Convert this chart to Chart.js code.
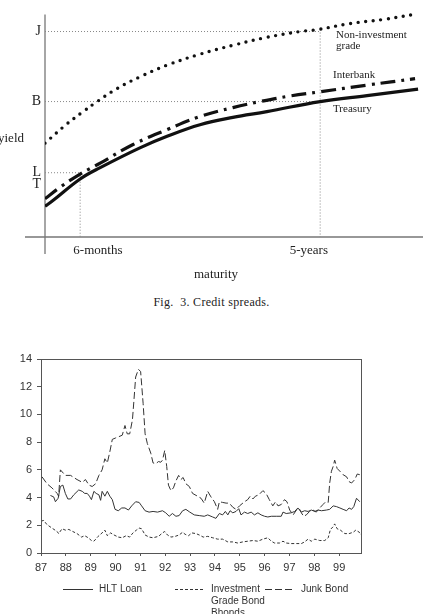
<!DOCTYPE html>
<html>
<head>
<meta charset="utf-8">
<script src="https://cdn.jsdelivr.net/npm/chart.js@4.4.1/dist/chart.umd.min.js"></script>
<style>
  html, body { margin: 0; padding: 0; background: #fff; }
  body { width: 423px; height: 614px; position: relative; overflow: hidden; }
  #top { position: absolute; left: 0; top: 0; width: 423px; height: 290px; }
  #bottom { position: absolute; left: 0; top: 330px; width: 423px; height: 284px; }
  .txt { position: absolute; white-space: nowrap; color: #222;
         font-family: 'Liberation Serif', 'Times New Roman', serif; line-height: 1; }
</style>
</head>
<body>
<div id="top"><canvas id="curveChart"></canvas></div>
<div class="txt" style="left:-2px; top:131px; font-size:13px;">yield</div>
<div class="txt" style="left:336px; top:29px; font-size:11px;">Non-investment</div>
<div class="txt" style="left:336px; top:40px; font-size:11px;">grade</div>
<div class="txt" style="left:333px; top:69px; font-size:11px;">Interbank</div>
<div class="txt" style="left:333px; top:103px; font-size:11px;">Treasury</div>
<div class="txt" style="left:194px; top:267px; font-size:13px;">maturity</div>
<div class="txt" style="left:0; width:423px; top:296px; font-size:12px; text-align:center; letter-spacing:0.3px;">Fig.&nbsp; 3. Credit spreads.</div>
<div id="bottom"><canvas id="spreadChart"></canvas></div>

<script>
// ---- Fig. 3: schematic yield curves (arbitrary units) ----
const maturityTicks = [0.93, 7.28];      // where the 6-month and 5-year guides stand
const maturityLabelAt = [1.40, 6.98];    // label centres sit a little off the guides
const maturityLabels = ['6-months', '5-years'];
const yieldTicks = [2.36, 2.89, 6.09, 9.24];
const yieldLabels = ['T', 'L', 'B', 'J'];

const nonInvX = [0, 0.57, 1.01, 1.38, 1.90, 2.51, 3.23, 4.10, 4.97, 5.87, 6.75, 7.22, 8.07, 8.94, 9.74];
const nonInvY = [4.22, 5.07, 5.64, 6.09, 6.67, 7.2, 7.73, 8.22, 8.62, 8.98, 9.24, 9.33, 9.6, 9.78, 10.0];
const interbankX = [0, 0.40, 0.93, 1.46, 2.33, 3.23, 4.10, 4.97, 5.69, 6.48, 7.28, 8.52, 9.79];
const interbankY = [1.72, 2.24, 2.83, 3.32, 4.16, 4.83, 5.42, 5.82, 6.09, 6.34, 6.53, 6.83, 7.12];
const treasuryX = [0, 0.21, 0.93, 1.46, 2.51, 3.23, 4.10, 4.97, 5.87, 7.28, 8.52, 9.87];
const treasuryY = [1.38, 1.64, 2.61, 3.12, 4.01, 4.53, 5.05, 5.38, 5.64, 6.09, 6.36, 6.65];

// ---- spreads 1987-1999 (percent) ----
const yearTicks = [87, 88, 89, 90, 91, 92, 93, 94, 95, 96, 97, 98, 99];

const hltYears = [87.38, 87.51, 87.58, 87.69, 87.78, 87.88, 87.98, 88.08, 88.19, 88.32,
  88.52, 88.66, 88.76, 88.86, 88.95, 89.03, 89.13, 89.22, 89.33, 89.40,
  89.46, 89.57, 89.67, 89.77, 89.87, 89.98, 90.11, 90.25, 90.38, 90.52,
  90.65, 90.81, 90.95, 91.05, 91.19, 91.35, 91.51, 91.69, 91.89, 92.02,
  92.16, 92.29, 92.43, 92.56, 92.70, 92.83, 92.99, 93.17, 93.37, 93.57,
  93.71, 93.91, 94.04, 94.18, 94.31, 94.42, 94.52, 94.61, 94.72, 94.85,
  94.96, 95.05, 95.19, 95.32, 95.46, 95.59, 95.73, 95.86, 96.00, 96.13,
  96.27, 96.47, 96.67, 96.74, 96.87, 97.07, 97.21, 97.34, 97.48, 97.61,
  97.75, 97.88, 98.02, 98.15, 98.29, 98.49, 98.62, 98.76, 98.89, 99.03,
  99.16, 99.30, 99.40, 99.50, 99.59, 99.70, 99.83];
const hltSpread = [4.15, 4.05, 3.7, 3.95, 4.8, 4.9, 4.3, 3.9, 3.9, 4.2,
  4.55, 4.45, 4.3, 4.3, 4.1, 3.85, 4.45, 4.3, 4.2, 3.8,
  4.45, 4.1, 4.45, 4.1, 3.85, 3.15, 3.05, 3.25, 3.25, 3.1,
  3.4, 3.7, 3.65, 3.4, 3.05, 2.95, 3.0, 2.95, 3.05, 2.9,
  2.65, 2.85, 2.65, 2.7, 3.05, 3.15, 2.95, 2.75, 2.7, 2.65,
  2.75, 2.6, 2.5, 2.85, 2.75, 3.0, 2.75, 3.05, 2.9, 3.0,
  3.2, 2.75, 2.95, 2.85, 2.95, 2.75, 2.9, 2.75, 2.65, 2.6,
  2.65, 2.65, 2.65, 2.95, 2.85, 2.9, 3.0, 3.25, 2.95, 3.05,
  3.0, 3.1, 3.0, 3.1, 3.05, 3.1, 3.15, 3.4, 3.35, 3.25,
  3.15, 3.05, 3.25, 3.15, 3.35, 3.95, 3.7];

const igYears = [87.00, 87.11, 87.24, 87.44, 87.65, 87.71, 87.85, 87.98, 88.12, 88.28,
  88.45, 88.63, 88.76, 88.90, 89.03, 89.13, 89.30, 89.49, 89.57, 89.67,
  89.80, 89.94, 90.11, 90.27, 90.43, 90.57, 90.70, 90.84, 90.95, 91.05,
  91.19, 91.35, 91.51, 91.73, 91.89, 91.98, 92.09, 92.23, 92.40, 92.56,
  92.70, 92.80, 92.94, 93.07, 93.24, 93.37, 93.53, 93.71, 93.91, 94.11,
  94.31, 94.52, 94.72, 94.92, 95.12, 95.32, 95.53, 95.73, 95.93, 96.13,
  96.27, 96.40, 96.60, 96.74, 96.87, 97.07, 97.28, 97.48, 97.61, 97.75,
  97.88, 98.02, 98.22, 98.42, 98.56, 98.65, 98.76, 98.82, 98.92, 99.05,
  99.23, 99.40, 99.57, 99.67, 99.81, 99.88];
const igSpread = [2.3, 2.35, 2.05, 1.8, 1.55, 1.4, 1.75, 1.65, 1.7, 1.55,
  1.4, 1.15, 1.25, 1.1, 0.9, 0.85, 1.2, 1.5, 1.65, 1.25,
  1.45, 1.3, 1.15, 1.1, 1.25, 1.15, 1.45, 1.65, 1.8, 1.75,
  1.3, 1.15, 1.1, 1.2, 1.45, 1.55, 1.3, 1.15, 1.2, 1.3,
  1.5, 1.35, 1.25, 1.45, 1.4, 1.3, 1.15, 1.2, 1.1, 1.0,
  1.0, 0.8, 0.8, 0.72, 0.8, 0.85, 0.9, 0.85, 1.0, 1.1,
  0.85, 0.72, 0.72, 0.85, 0.72, 0.68, 0.68, 0.68, 0.8, 1.0,
  0.85, 1.0, 0.9, 0.9, 1.1, 1.7, 1.9, 2.1, 1.75, 1.65,
  1.4, 1.4, 1.5, 1.65, 1.5, 1.3];

const junkYears = [87.04, 87.24, 87.44, 87.65, 87.71, 87.78, 87.98, 88.19, 88.45, 88.66,
  88.79, 88.93, 89.06, 89.20, 89.33, 89.46, 89.57, 89.67, 89.77, 89.87,
  90.00, 90.14, 90.27, 90.38, 90.47, 90.57, 90.68, 90.74, 90.81, 90.92,
  91.01, 91.11, 91.19, 91.28, 91.42, 91.51, 91.62, 91.73, 91.82, 91.89,
  91.98, 92.06, 92.13, 92.23, 92.33, 92.43, 92.54, 92.63, 92.72, 92.83,
  92.97, 93.10, 93.30, 93.44, 93.57, 93.71, 93.84, 93.98, 94.11, 94.18,
  94.31, 94.45, 94.58, 94.72, 94.85, 94.99, 95.19, 95.32, 95.42, 95.53,
  95.63, 95.77, 95.93, 96.06, 96.19, 96.33, 96.44, 96.54, 96.67, 96.80,
  96.90, 97.01, 97.15, 97.28, 97.38, 97.48, 97.57, 97.68, 97.81, 97.95,
  98.08, 98.22, 98.35, 98.46, 98.56, 98.62, 98.69, 98.76, 98.82, 98.92,
  99.03, 99.16, 99.30, 99.40, 99.50, 99.63, 99.73, 99.83];
const junkSpread = [5.5, 5.0, 4.7, 4.3, 4.1, 6.0, 5.6, 5.6, 5.3, 5.1,
  5.3, 4.9, 4.8, 5.0, 5.6, 6.0, 6.8, 6.5, 7.3, 8.2,
  8.3, 8.4, 8.5, 9.2, 8.6, 8.6, 9.6, 11.0, 12.7, 13.25,
  13.1, 10.8, 8.6, 7.9, 7.2, 6.5, 6.45, 6.6, 6.55, 6.7,
  7.4, 6.25, 4.9, 4.5, 4.7, 5.2, 5.6, 5.3, 5.45, 5.0,
  4.8, 4.3, 4.1, 3.95, 3.6, 4.45, 4.05, 3.7, 3.15, 3.7,
  3.65, 3.6, 3.6, 3.3, 3.15, 3.4, 3.7, 3.85, 4.1, 3.9,
  4.1, 4.2, 4.5, 4.3, 3.85, 3.4, 3.7, 3.4, 3.5, 3.85,
  3.7, 3.1, 2.75, 3.1, 3.25, 2.9, 2.65, 2.75, 3.0, 3.1,
  2.95, 3.25, 3.5, 3.7, 3.65, 5.05, 5.9, 6.25, 6.7, 6.1,
  5.9, 5.65, 5.5, 5.15, 5.05, 5.3, 5.7, 5.65];

const legendLines = [['HLT Loan'], ['Investment', 'Grade Bond', 'Bhonds'], ['Junk Bond']];

const serif = "'Liberation Serif', 'Times New Roman', serif";
const sans = "'Liberation Sans', Arial, sans-serif";

function pts(xs, ys) {
  return xs.map((x, i) => ({ x: x, y: ys[i] }));
}

// axes that cross, plus the dotted guide lines
const crossAxes = {
  id: 'crossAxes',
  beforeDatasetsDraw(chart) {
    const { ctx, chartArea: a, scales: { x, y } } = chart;
    const x0 = x.getPixelForValue(0), y0 = y.getPixelForValue(0);
    ctx.save();
    ctx.strokeStyle = '#777';
    ctx.lineWidth = 1.3;
    ctx.beginPath();
    ctx.moveTo(a.left - 20, y0); ctx.lineTo(a.right, y0);
    ctx.moveTo(x0, y.getPixelForValue(10)); ctx.lineTo(x0, y0 + 17);
    ctx.stroke();

    ctx.setLineDash([1, 2]);
    ctx.strokeStyle = '#888';
    ctx.lineWidth = 1;
    const x6m = x.getPixelForValue(maturityTicks[0]);
    const x5y = x.getPixelForValue(maturityTicks[1]);
    const yL = y.getPixelForValue(yieldTicks[1]);
    const yB = y.getPixelForValue(yieldTicks[2]);
    const yJ = y.getPixelForValue(yieldTicks[3]);
    ctx.beginPath();
    ctx.moveTo(x0, yJ); ctx.lineTo(x5y, yJ);
    ctx.moveTo(x0, yB); ctx.lineTo(x5y, yB);
    ctx.moveTo(x0, yL); ctx.lineTo(x6m, yL);
    ctx.moveTo(x6m, yL); ctx.lineTo(x6m, y0);
    ctx.moveTo(x5y, yJ - 2); ctx.lineTo(x5y, y0);
    ctx.stroke();
    ctx.restore();
  }
};

new Chart(document.getElementById('curveChart'), {
  type: 'line',
  data: {
    datasets: [
      { label: 'Non-investment grade', data: pts(nonInvX, nonInvY), borderColor: '#111',
        borderWidth: 3.4, borderDash: [0, 7.6], borderCapStyle: 'round', pointRadius: 0, tension: 0.4 },
      { label: 'Interbank', data: pts(interbankX, interbankY), borderColor: '#111',
        borderWidth: 3.2, borderDash: [15, 6, 3, 6], pointRadius: 0, tension: 0.4 },
      { label: 'Treasury', data: pts(treasuryX, treasuryY), borderColor: '#111',
        borderWidth: 3.2, pointRadius: 0, tension: 0.4 }
    ]
  },
  options: {
    responsive: true,
    maintainAspectRatio: false,
    animation: false,
    layout: { padding: 0 },
    plugins: { legend: { display: false }, tooltip: { enabled: false } },
    scales: {
      x: {
        type: 'linear', min: 0, max: 10,
        border: { display: false },
        grid: { display: false, drawTicks: false },
        afterBuildTicks: s => { s.ticks = maturityLabelAt.map(v => ({ value: v })); },
        afterFit: s => { s.height = 53; },
        ticks: { callback: (v, i) => maturityLabels[i], font: { family: serif, size: 13 },
                 color: '#222', padding: 6, maxRotation: 0, autoSkip: false }
      },
      y: {
        min: 0, max: 10.1,
        border: { display: false },
        grid: { display: false, drawTicks: false },
        afterBuildTicks: s => { s.ticks = yieldTicks.map(v => ({ value: v })); },
        afterFit: s => { s.width = 45; },
        ticks: { callback: (v, i) => yieldLabels[i], font: { family: serif, size: 14 },
                 color: '#222', padding: 4, autoSkip: false }
      }
    }
  },
  plugins: [crossAxes]
});

// box round the plot area
const frame = {
  id: 'frame',
  afterDraw(chart) {
    const { ctx, chartArea: a } = chart;
    ctx.save();
    ctx.strokeStyle = '#555';
    ctx.lineWidth = 1;
    ctx.strokeRect(Math.round(a.left) + 0.5, Math.round(a.top) + 0.5,
                   Math.round(a.right - a.left), Math.round(a.bottom - a.top));
    ctx.restore();
  }
};

// legend with line samples and wrapped text
const lineLegend = {
  id: 'lineLegend',
  afterDraw(chart) {
    const { ctx } = chart;
    const slots = [63, 175, 265];
    const y = 259;
    ctx.save();
    ctx.font = '10px ' + sans;
    ctx.fillStyle = '#333';
    ctx.textBaseline = 'middle';
    chart.data.datasets.forEach((ds, i) => {
      const x = slots[i];
      ctx.strokeStyle = ds.borderColor;
      ctx.lineWidth = 1;
      ctx.setLineDash(ds.borderDash || []);
      ctx.beginPath();
      ctx.moveTo(x, y + 0.5); ctx.lineTo(x + 30, y + 0.5);
      ctx.stroke();
      legendLines[i].forEach((t, k) => ctx.fillText(t, x + 36, y + k * 12));
    });
    ctx.restore();
  }
};

new Chart(document.getElementById('spreadChart'), {
  type: 'line',
  data: {
    datasets: [
      { label: 'HLT Loan', data: pts(hltYears, hltSpread), borderColor: '#333',
        borderWidth: 1, pointRadius: 0, tension: 0 },
      { label: 'Investment Grade Bond Bhonds', data: pts(igYears, igSpread), borderColor: '#333',
        borderWidth: 1, borderDash: [3, 2], pointRadius: 0, tension: 0 },
      { label: 'Junk Bond', data: pts(junkYears, junkSpread), borderColor: '#333',
        borderWidth: 1, borderDash: [7, 3], pointRadius: 0, tension: 0 }
    ]
  },
  options: {
    responsive: true,
    maintainAspectRatio: false,
    animation: false,
    layout: { padding: { top: 29, right: 62, bottom: 40, left: 0 } },
    plugins: { legend: { display: false }, tooltip: { enabled: false } },
    scales: {
      x: {
        type: 'linear', min: 87, max: 99.88,
        border: { display: false },
        grid: { drawOnChartArea: false, tickLength: 3, color: '#555' },
        afterBuildTicks: s => { s.ticks = yearTicks.map(v => ({ value: v })); },
        afterFit: s => { s.height = 21; },
        ticks: { font: { family: sans, size: 11 }, color: '#333', padding: 5,
                 maxRotation: 0, autoSkip: false }
      },
      y: {
        min: 0, max: 14,
        border: { display: false },
        grid: { drawOnChartArea: false, tickLength: 4, color: '#555' },
        afterFit: s => { s.width = 41; },
        ticks: { stepSize: 2, font: { family: sans, size: 11 }, color: '#333', padding: 5 }
      }
    }
  },
  plugins: [frame, lineLegend]
});
</script>
</body>
</html>
